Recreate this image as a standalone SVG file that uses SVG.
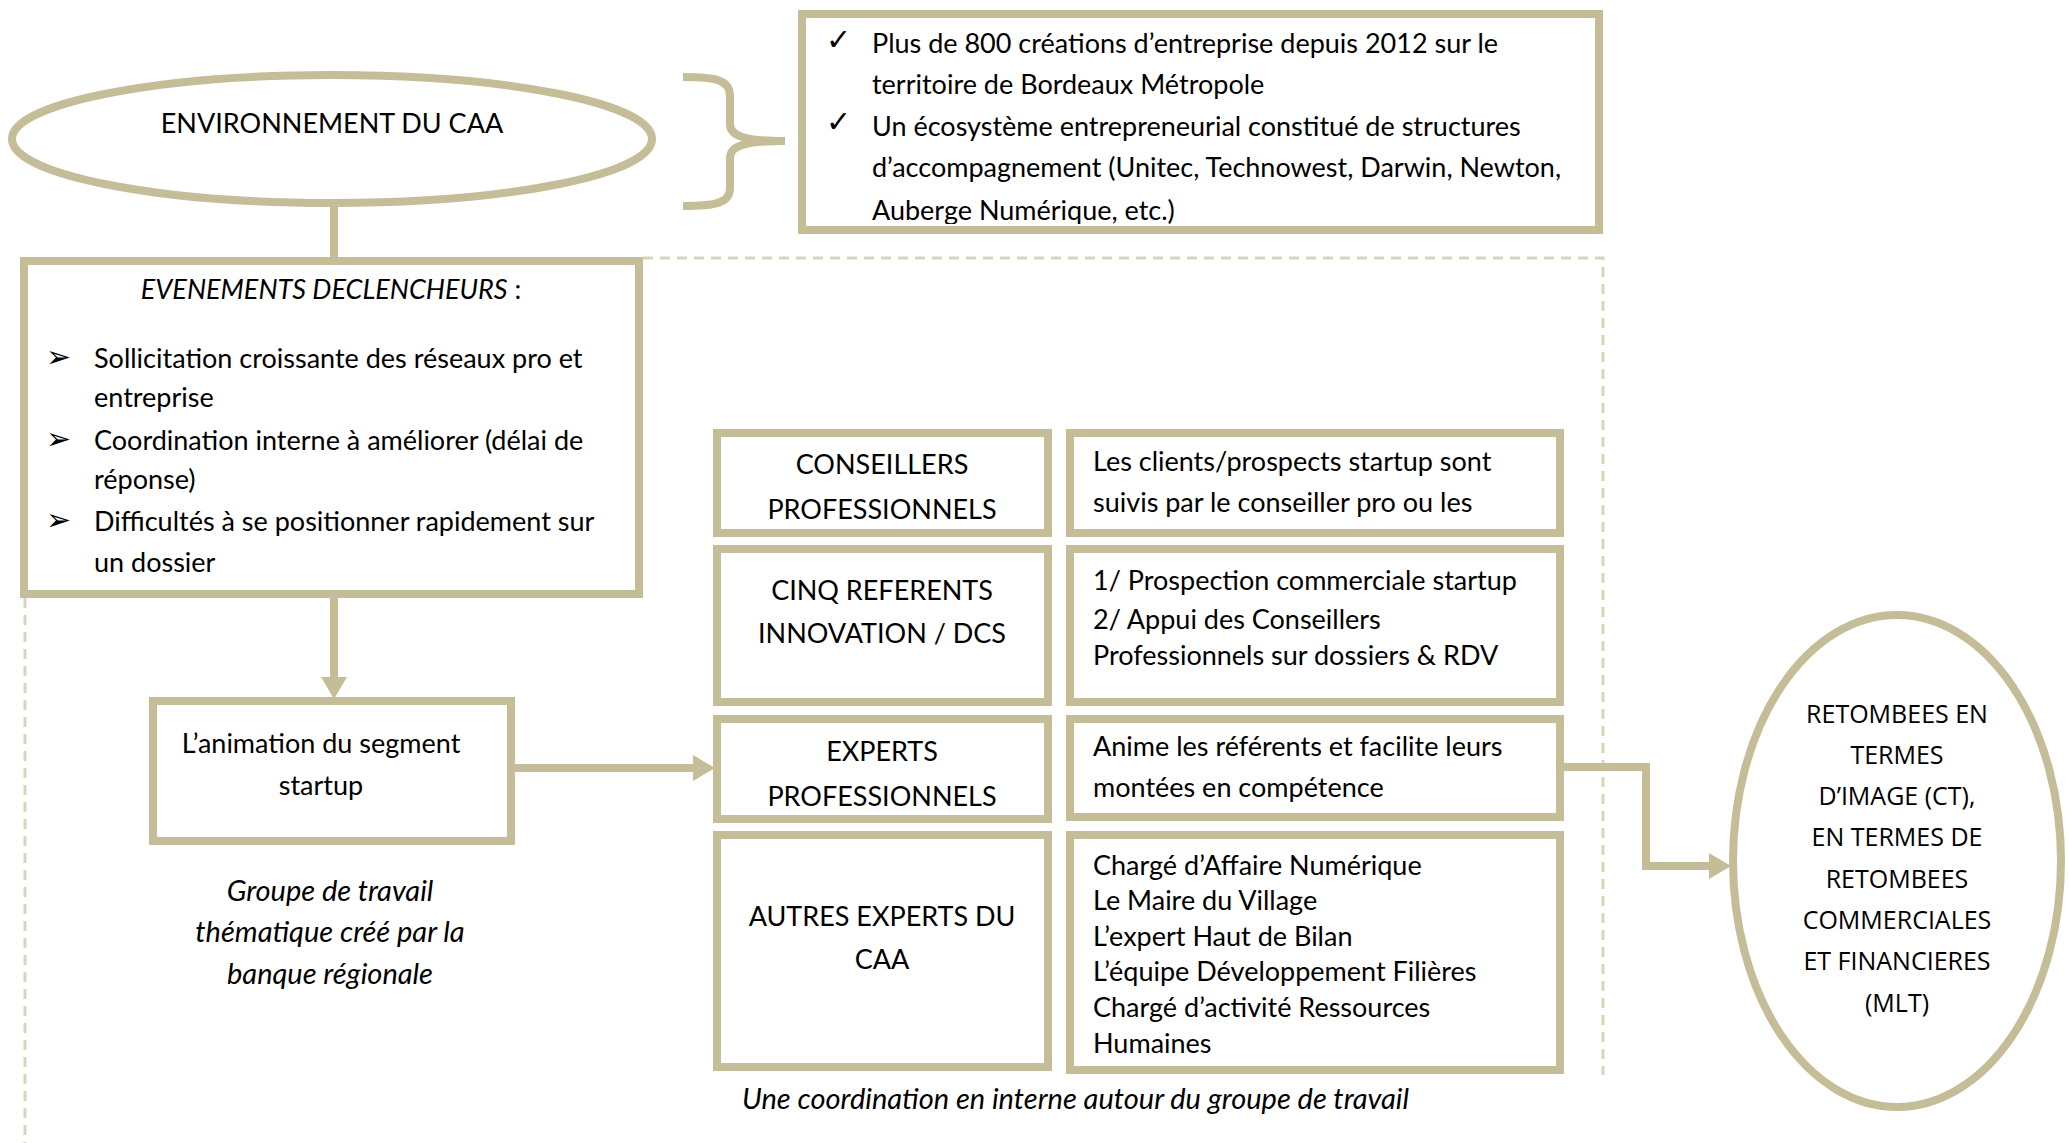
<svg xmlns="http://www.w3.org/2000/svg" width="2069" height="1143" viewBox="0 0 2069 1143">
<style>
.b{fill:#fff;stroke:#C4BD97;stroke-width:8}
.c{fill:none;stroke:#C4BD97;stroke-width:8}
.d{fill:none;stroke:#D9D3BC;stroke-width:3;stroke-dasharray:10 7}
.t{font-family:Lato,"Liberation Sans",sans-serif;font-size:27px;fill:#000}
.m{text-anchor:middle}
.i{font-style:italic}
.g{font-size:29px}
.s{font-family:"DejaVu Sans",sans-serif;font-size:30px;fill:#000}
.o{font-family:"Open Sans","Liberation Sans",sans-serif;font-size:25px;fill:#000;text-anchor:middle}
</style>
<defs>
<marker id="ah" markerUnits="userSpaceOnUse" markerWidth="24" markerHeight="26" viewBox="0 0 22 26" refX="2" refY="13" orient="auto">
<path d="M0,0 L22,13 L0,26 Z" fill="#C4BD97"/>
</marker>
<clipPath id="clipTop"><rect x="806" y="18" width="789" height="206"/></clipPath>
</defs>
<rect width="2069" height="1143" fill="#fff"/>

<g id="dashed-frame">
<path class="d" d="M643,258 H1603 V1075"/>
<path class="d" d="M25,598 V1143"/>
</g>

<g id="connectors">
<path class="c" d="M334,203 V258"/>
<path class="c" d="M334,598 V679" marker-end="url(#ah)"/>
<path class="c" d="M515,768 H695" marker-end="url(#ah)"/>
<path class="c" d="M1560,767 H1646 V866 H1711" marker-end="url(#ah)"/>
<path class="c" d="M683,77 C716,77 730,80 730,96 L730,124 C730,136 744,141 785,141 C744,141 730,146 730,158 L730,188 C730,203 716,206 683,206"/>
</g>

<g id="env">
<ellipse class="b" cx="332" cy="139" rx="320" ry="64"/>
<text class="t m" x="332" y="133">ENVIRONNEMENT DU CAA</text>
</g>

<g id="env-facts">
<rect class="b" x="802" y="14" width="797" height="216"/>
<g clip-path="url(#clipTop)">
<text class="s" x="826" y="50">✓</text>
<text class="s" x="826" y="132">✓</text>
<text class="t" x="872" y="53">Plus de 800 créations d’entreprise depuis 2012 sur le</text>
<text class="t" x="872" y="94">territoire de Bordeaux Métropole</text>
<text class="t" x="872" y="136">Un écosystème entrepreneurial constitué de structures</text>
<text class="t" x="872" y="177">d’accompagnement (Unitec, Technowest, Darwin, Newton,</text>
<text class="t" x="872" y="220">Auberge Numérique, etc.)</text>
</g>
</g>

<g id="evenements">
<rect class="b" x="24" y="261" width="615" height="333"/>
<text class="t m" x="331" y="299"><tspan class="i">EVENEMENTS DECLENCHEURS</tspan> :</text>
<text class="s" x="46" y="367">➢</text>
<text class="s" x="46" y="449">➢</text>
<text class="s" x="46" y="530">➢</text>
<text class="t" x="94" y="368">Sollicitation croissante des réseaux pro et</text>
<text class="t" x="94" y="407">entreprise</text>
<text class="t" x="94" y="450">Coordination interne à améliorer (délai de</text>
<text class="t" x="94" y="489">réponse)</text>
<text class="t" x="94" y="531">Difficultés à se positionner rapidement sur</text>
<text class="t" x="94" y="572">un dossier</text>
</g>

<g id="animation">
<rect class="b" x="153" y="701" width="358" height="140"/>
<text class="t m" x="321" y="753">L’animation du segment</text>
<text class="t m" x="321" y="795">startup</text>
</g>

<g id="groupe-label">
<text class="t m i g" x="330" y="901">Groupe de travail</text>
<text class="t m i g" x="330" y="942">thématique créé par la</text>
<text class="t m i g" x="330" y="984">banque régionale</text>
</g>

<g id="conseillers">
<rect class="b" x="717" y="433" width="331" height="100"/>
<text class="t m" x="882" y="474">CONSEILLERS</text>
<text class="t m" x="882" y="519">PROFESSIONNELS</text>
</g>
<g id="conseillers-desc">
<rect class="b" x="1070" y="433" width="490" height="100"/>
<text class="t" x="1093" y="471">Les clients/prospects startup sont</text>
<text class="t" x="1093" y="512">suivis par le conseiller pro ou les</text>
</g>

<g id="referents">
<rect class="b" x="717" y="549" width="331" height="153"/>
<text class="t m" x="882" y="600">CINQ REFERENTS</text>
<text class="t m" x="882" y="643">INNOVATION / DCS</text>
</g>
<g id="referents-desc">
<rect class="b" x="1070" y="549" width="490" height="153"/>
<text class="t" x="1093" y="590">1/ Prospection commerciale startup</text>
<text class="t" x="1093" y="629">2/ Appui des Conseillers</text>
<text class="t" x="1093" y="665">Professionnels sur dossiers &amp; RDV</text>
</g>

<g id="experts">
<rect class="b" x="717" y="719" width="331" height="100"/>
<text class="t m" x="882" y="761">EXPERTS</text>
<text class="t m" x="882" y="806">PROFESSIONNELS</text>
</g>
<g id="experts-desc">
<rect class="b" x="1070" y="719" width="490" height="98"/>
<text class="t" x="1093" y="756">Anime les référents et facilite leurs</text>
<text class="t" x="1093" y="797">montées en compétence</text>
</g>

<g id="autres">
<rect class="b" x="717" y="835" width="331" height="232"/>
<text class="t m" x="882" y="926">AUTRES EXPERTS DU</text>
<text class="t m" x="882" y="969">CAA</text>
</g>
<g id="autres-desc">
<rect class="b" x="1070" y="835" width="490" height="235"/>
<text class="t" x="1093" y="875">Chargé d’Affaire Numérique</text>
<text class="t" x="1093" y="910">Le Maire du Village</text>
<text class="t" x="1093" y="946">L’expert Haut de Bilan</text>
<text class="t" x="1093" y="981">L’équipe Développement Filières</text>
<text class="t" x="1093" y="1017">Chargé d’activité Ressources</text>
<text class="t" x="1093" y="1053">Humaines</text>
</g>

<g id="coordination-label">
<text class="t i g" x="742" y="1109">Une coordination en interne autour du groupe de travail</text>
</g>

<g id="retombees">
<ellipse class="b" cx="1897" cy="861" rx="164" ry="246"/>
<text class="o" x="1897" y="723">RETOMBEES EN</text>
<text class="o" x="1897" y="764">TERMES</text>
<text class="o" x="1897" y="805">D’IMAGE (CT),</text>
<text class="o" x="1897" y="846">EN TERMES DE</text>
<text class="o" x="1897" y="888">RETOMBEES</text>
<text class="o" x="1897" y="929">COMMERCIALES</text>
<text class="o" x="1897" y="970">ET FINANCIERES</text>
<text class="o" x="1897" y="1012">(MLT)</text>
</g>
</svg>
